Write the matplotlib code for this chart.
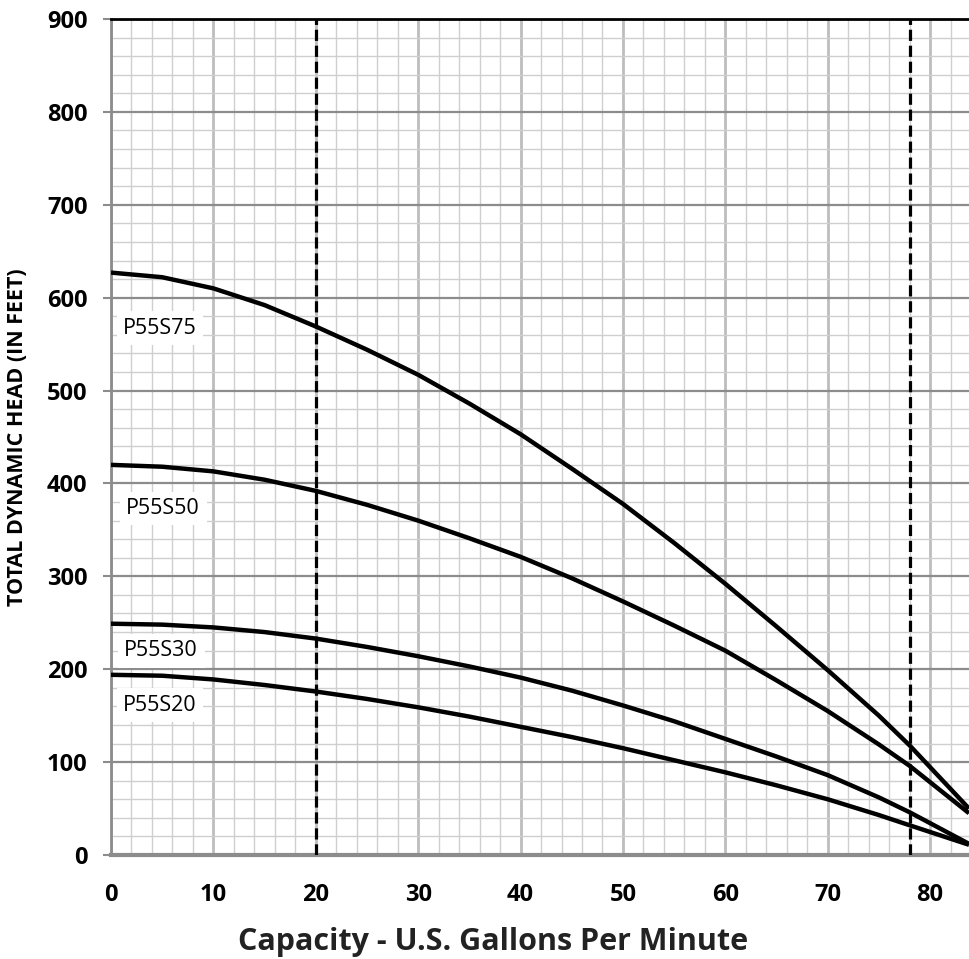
import matplotlib.pyplot as plt
import numpy as np
from matplotlib.ticker import MultipleLocator

plt.rcParams["font.family"] = ["Open Sans", "DejaVu Sans"]
plt.rcParams["xtick.major.size"] = 0
plt.rcParams["xtick.major.pad"] = 20
plt.rcParams["xtick.labelsize"] = 17
plt.rcParams["ytick.labelsize"] = 17

# Capacity (GPM) at which each head value was read
GPM = [0, 5, 10, 15, 20, 25, 30, 35, 40, 45, 50, 55, 60, 65, 70, 75, 78, 83.8]

HEAD_P55S75 = [627, 622, 610, 592, 569, 544, 517, 486, 453, 416, 378, 336, 292, 246, 199, 150, 118, 50]
HEAD_P55S50 = [420, 418, 413, 404, 392, 377, 360, 341, 321, 298, 273, 247, 220, 188, 155, 119, 96, 45]
HEAD_P55S30 = [249, 248, 245, 240, 233, 224, 214, 203, 191, 177, 161, 144, 125, 106, 86, 62, 46, 12]
HEAD_P55S20 = [194, 193, 189, 183, 176, 168, 159, 149, 138, 127, 115, 102, 89, 75, 60, 43, 32, 11]

MODELS = ["P55S75", "P55S50", "P55S30", "P55S20"]
CURVES = [HEAD_P55S75, HEAD_P55S50, HEAD_P55S30, HEAD_P55S20]
LABEL_POS = [(4.8, 567), (5.1, 373), (4.9, 220), (4.8, 161)]

LIMIT_LINES = [20, 78]

W, H = 969, 959
fig = plt.figure(figsize=(W / 100, H / 100), dpi=100)
ax = fig.add_axes([111 / W, 1 - 855 / H, 1 - 111 / W, (855 - 19) / H])

ax.set_xlim(0, 83.8)
ax.set_ylim(0, 900)
ax.xaxis.set_major_locator(MultipleLocator(10))
ax.xaxis.set_minor_locator(MultipleLocator(2))
ax.yaxis.set_major_locator(MultipleLocator(100))
ax.yaxis.set_minor_locator(MultipleLocator(20))

# grid
ax.grid(which="minor", axis="both", color="#cfcfcf", linewidth=1.0)
ax.grid(which="major", axis="x", color="#bdbdbd", linewidth=2.0)
ax.grid(which="major", axis="y", color="#8c8c8c", linewidth=1.6)
ax.set_axisbelow(True)

ax.spines["right"].set_visible(False)
ax.spines["top"].set_color("black")
ax.spines["top"].set_linewidth(2.0)
ax.spines["left"].set_color("#8c8c8c")
ax.spines["left"].set_linewidth(2.0)
ax.spines["bottom"].set_color("#8c8c8c")
ax.spines["bottom"].set_linewidth(3.0)

ax.tick_params(which="minor", length=0)
ax.tick_params(axis="y", which="major", length=6, width=1.5, color="#8c8c8c", pad=11)
for lab in ax.get_xticklabels() + ax.get_yticklabels():
    lab.set_fontweight("bold")

for x in LIMIT_LINES:
    ax.axvline(x, color="black", linewidth=2.3, linestyle=(0, (3.5, 1.5)), zorder=3)

for name, head, (lx, ly) in zip(MODELS, CURVES, LABEL_POS):
    ax.plot(GPM, head, color="black", linewidth=3.2, solid_capstyle="butt", zorder=4)
    ax.text(lx, ly, name, fontsize=15.5, ha="center", va="center", zorder=5,
            bbox=dict(boxstyle="square,pad=0.3", facecolor="white", edgecolor="none"))

fig.text(493 / W, 1 - 950 / H, "Capacity - U.S. Gallons Per Minute",
         fontsize=22, fontweight="bold", ha="center", va="baseline", color="#222222")
fig.text(18 / W, 1 - 437 / H, "TOTAL DYNAMIC HEAD (IN FEET)",
         fontsize=15.5, fontweight="bold", rotation=90, ha="center", va="center")

fig.savefig("out.png", dpi=100)
